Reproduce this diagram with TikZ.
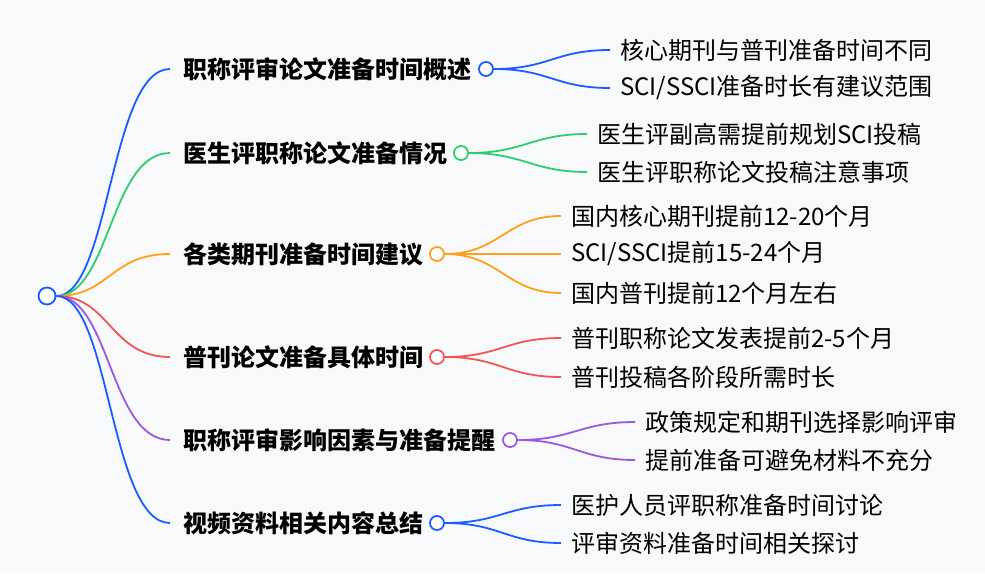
\documentclass[tikz,border=0pt]{standalone}
\usepackage{fontspec}
\setmainfont{Noto Sans CJK SC}
\usetikzlibrary{positioning}
\definecolor{cb}{HTML}{1A5CFF}
\definecolor{cg}{HTML}{2ECC71}
\definecolor{co}{HTML}{FFA01A}
\definecolor{cr}{HTML}{F25555}
\definecolor{cp}{HTML}{9B59DB}
\definecolor{bg}{HTML}{F8F9FB}
\tikzset{
 br/.style={font=\fontsize{24}{27}\selectfont\bfseries, anchor=west, inner sep=0pt},
 lf/.style={font=\fontsize{24}{27}\selectfont, anchor=west, inner sep=0pt},
 dot/.style={circle, draw=#1, fill=white, line width=1.8pt, minimum size=14pt, inner sep=0pt},
 ln/.style={draw=#1, line width=1.8pt},
}
\begin{document}
\begin{tikzpicture}[x=1pt,y=-1pt]
\fill[bg] (0,0) rectangle (985,573);
\node[dot=cb, minimum size=17pt] (root) at (47,296) {};
\newcommand\mybranch[5]{%
  \node[br] (#1) at (183,#3) {#4};
  \coordinate (#1s) at (170,#3);
  \node[dot=#2] (#1c) at (#5,#3) {};
  \draw[ln=#2] (root.east) .. controls (110,296) and (110,#3) .. (#1s);
}
\newcommand\myleaf[6]{%
  \node[lf] (#2) at (#5,#4) {#6};
  \coordinate (#2s) at ([xshift=-10pt]#2.west);
  \draw[ln=#3] (#1c.east) .. controls ([xshift=55pt]#1c.east) and ([xshift=-55pt]#2s) .. (#2s);
}
\mybranch{b1}{cb}{69}{职称评审论文准备时间概述}{486}
\myleaf{b1}{l11}{cb}{50}{620}{核心期刊与普刊准备时间不同}
\myleaf{b1}{l12}{cb}{88}{620}{SCI/SSCI准备时长有建议范围}
\mybranch{b2}{cg}{153}{医生评职称论文准备情况}{461}
\myleaf{b2}{l21}{cg}{134}{597}{医生评副高需提前规划SCI投稿}
\myleaf{b2}{l22}{cg}{172}{597}{医生评职称论文投稿注意事项}
\mybranch{b3}{co}{254}{各类期刊准备时间建议}{437}
\myleaf{b3}{l31}{co}{216}{571}{国内核心期刊提前12-20个月}
\myleaf{b3}{l32}{co}{254}{571}{SCI/SSCI提前15-24个月}
\myleaf{b3}{l33}{co}{293}{571}{国内普刊提前12个月左右}
\mybranch{b4}{cr}{357}{普刊论文准备具体时间}{437}
\myleaf{b4}{l41}{cr}{338}{571}{普刊职称论文发表提前2-5个月}
\myleaf{b4}{l42}{cr}{377}{571}{普刊投稿各阶段所需时长}
\mybranch{b5}{cp}{440}{职称评审影响因素与准备提醒}{510}
\myleaf{b5}{l51}{cp}{422}{645}{政策规定和期刊选择影响评审}
\myleaf{b5}{l52}{cp}{460}{645}{提前准备可避免材料不充分}
\mybranch{b6}{cb}{523}{视频资料相关内容总结}{437}
\myleaf{b6}{l61}{cb}{505}{571}{医护人员评职称准备时间讨论}
\myleaf{b6}{l62}{cb}{543}{571}{评审资料准备时间相关探讨}
\end{tikzpicture}
\end{document}
